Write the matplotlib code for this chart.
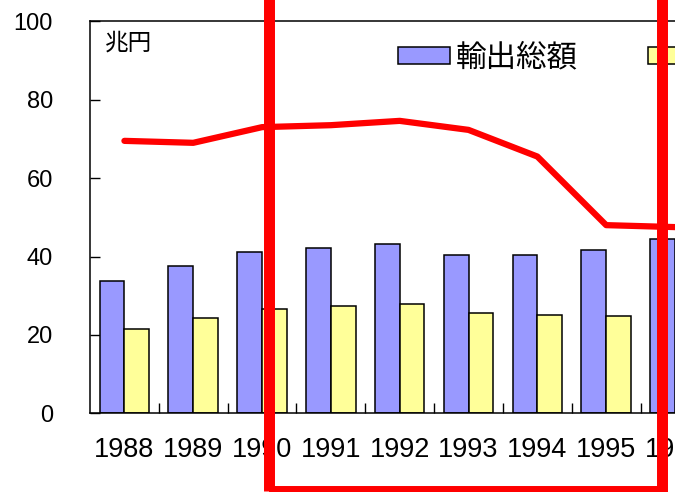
import numpy as np
import matplotlib.pyplot as plt
from matplotlib.patches import Patch, Rectangle
from matplotlib.ticker import FixedLocator, NullFormatter

plt.rcParams['font.family'] = ['Liberation Sans', 'Noto Sans CJK JP', 'DejaVu Sans']

# values (兆円)
years = ['1988', '1989', '1990', '1991', '1992', '1993', '1994', '1995', '1996']
export_total = [33.8, 37.6, 41.2, 42.2, 43.1, 40.4, 40.4, 41.7, 44.4]
import_total = [21.4, 24.2, 26.5, 27.5, 28.0, 25.7, 25.2, 24.7]
red_series = [69.5, 69.0, 73.0, 73.5, 74.6, 72.3, 65.5, 48.0, 47.5]
legend_labels = ['輸出総額', '輸入総額']

blue = '#9999ff'
yellow = '#ffff99'

W, H = 675, 492
fig = plt.figure(figsize=(W / 100, H / 100), dpi=100)
ax = fig.add_axes([90 / W, 78.7 / H, (W - 90) / W, 392 / H])

x = np.arange(len(years))
bw = 0.36
ax.bar(x - bw / 2, export_total, bw, color=blue, edgecolor='black', linewidth=1.1, zorder=2)
ax.bar(x[:len(import_total)] + bw / 2, import_total, bw, color=yellow, edgecolor='black',
       linewidth=1.1, zorder=2)
ax.plot(x, red_series, color='red', lw=4.5, solid_capstyle='round', zorder=3)

ax.set_ylim(0, 100)
ax.set_xlim(-0.5, -0.5 + (W - 90) / 69.57)
ax.set_yticks(range(0, 101, 20))
ax.tick_params(axis='y', direction='in', length=7, width=1, pad=26.6, labelsize=17)

# category labels at the centres, ticks at the boundaries
ax.set_xticks(x)
ax.set_xticklabels(years)
ax.tick_params(axis='x', which='major', length=0, pad=17, labelsize=19.5)
ax.xaxis.set_minor_locator(FixedLocator(np.arange(0.5, len(years), 1)))
ax.xaxis.set_minor_formatter(NullFormatter())
ax.tick_params(axis='x', which='minor', direction='in', length=7, width=1)

for s in ['left', 'bottom', 'top']:
    ax.spines[s].set_linewidth(1.1)
ax.spines['right'].set_visible(False)

fig.text(105 / W, 1 - 44 / H, '兆円', fontsize=17, va='center', ha='left')

handles = [Patch(facecolor=blue, edgecolor='black', linewidth=1.1),
           Patch(facecolor=yellow, edgecolor='black', linewidth=1.1)]
fig.legend(handles, legend_labels, ncol=2, frameon=False, fontsize=22,
           loc='center left', bbox_to_anchor=(398 / W, 1 - 58 / H),
           borderpad=0, borderaxespad=0, handlelength=1.7, handleheight=0.49,
           handletextpad=0.2, columnspacing=2.3)

# red highlight box drawn over the chart
fig.patches.append(Rectangle((268.5 / W, 1.5 / H), (661.5 - 268.5) / W, 1.1,
                             transform=fig.transFigure, fill=False, edgecolor='red',
                             linewidth=7.9, zorder=10))

fig.savefig('out.png', dpi=100)
